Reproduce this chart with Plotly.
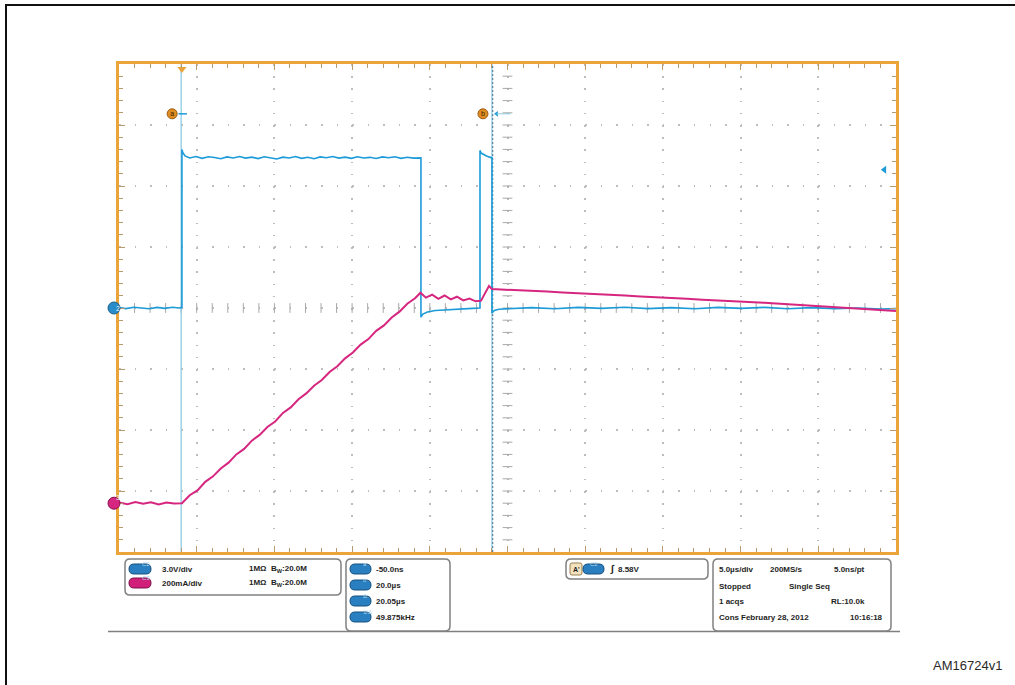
import numpy as np
import plotly.graph_objects as go

# ---------------- scope settings ----------------
t_left = -4.05          # µs at left edge of screen
t_div = 5.0             # µs/div
n_xdiv = 10
v_div = 3.0             # CH2 V/div
i_div = 200.0           # CH3 mA/div
n_ydiv = 8
ch3_offset_div = -3.2   # CH3 ground position (div from centre)

# ---------------- CH2 (blue, V) ----------------
ch2_t = [-4.05, -3.6, -3.1, -2.6, -2.1, -1.6, -1.1, -0.6, -0.2, 0.0,
         0.0, 0.05, 0.2, 0.5, 0.9, 1.3, 1.7, 2.1, 2.5, 2.9, 3.3, 3.7, 4.1, 4.5, 4.9,
         5.3, 5.7, 6.1, 6.5, 6.9, 7.3, 7.7, 8.1, 8.5, 8.9, 9.3, 9.7, 10.1, 10.5,
         10.9, 11.3, 11.7, 12.1, 12.5, 12.9, 13.3, 13.7, 14.1, 14.5, 14.9, 15.38,
         15.38, 15.5, 15.8, 16.3, 17.0, 18.0, 18.7, 19.18,
         19.18, 19.25, 19.4, 19.6, 19.8, 19.95,
         19.95, 20.1, 20.4, 21.0, 22.5, 24.0, 25.5, 27.0, 28.5, 30.0, 31.5, 33.0,
         34.5, 36.0, 37.5, 39.0, 40.5, 42.0, 43.5, 45.0, 45.95]
ch2_v = [0.02, -0.03, 0.04, 0.0, -0.04, 0.03, -0.02, 0.04, 0.0, 0.02,
         7.8, 7.65, 7.48, 7.38, 7.45, 7.36, 7.44, 7.40, 7.34, 7.43, 7.38, 7.45, 7.37, 7.42, 7.35,
         7.44, 7.39, 7.33, 7.42, 7.38, 7.45, 7.36, 7.41, 7.34, 7.43, 7.39, 7.45, 7.37, 7.42,
         7.36, 7.44, 7.38, 7.41, 7.35, 7.43, 7.39, 7.44, 7.36, 7.41, 7.37, 7.38,
         -0.45, -0.3, -0.2, -0.12, -0.08, -0.04, -0.02, 0.0,
         7.75, 7.62, 7.55, 7.48, 7.42, 7.38,
         -0.25, -0.12, -0.06, -0.03, 0.02, -0.04, 0.03, -0.02, 0.04, -0.03, 0.02, -0.04,
         0.03, -0.02, 0.03, -0.04, 0.02, -0.03, 0.0, -0.05, -0.03]

# ---------------- CH3 (magenta, mA) ----------------
ch3_t = [-4.05, -3.5, -3.0, -2.5, -2.0, -1.5, -1.0, -0.5, 0.0,
         0.5, 1.0, 1.5, 2.0, 2.5, 3.0, 3.5, 4.0, 4.5, 5.0, 5.5, 6.0, 6.5, 7.0,
         7.5, 8.0, 8.5, 9.0, 9.5, 10.0, 10.5, 11.0, 11.5, 12.0, 12.5, 13.0, 13.5,
         14.0, 14.5, 15.0, 15.35,
         15.7, 16.1, 16.5, 16.9, 17.3, 17.7, 18.1, 18.5, 18.9, 19.25,
         19.5, 19.76, 19.95, 20.5, 21.5, 22.5, 23.5, 24.5, 25.5, 26.5, 27.5,
         28.5, 29.5, 30.5, 31.5, 32.5, 33.5, 34.5, 35.5, 36.5, 37.5, 38.5, 39.5,
         40.5, 41.5, 42.5, 43.5, 44.5, 45.95]
ch3_i = [2, -3, 4, -2, 3, -4, 2, -1, 0,
         26, 42, 70, 88, 114, 133, 160, 178, 205, 224, 250, 268, 296, 314,
         341, 360, 385, 404, 430, 449, 475, 494, 520, 538, 565, 583, 609,
         628, 654, 672, 690,
         674, 684, 670, 681, 668, 677, 665, 671, 662, 664,
         688, 712, 702, 701, 699, 696, 694, 691, 689, 686, 683,
         681, 678, 676, 673, 670, 667, 665, 662, 659, 657, 654, 651,
         648, 645, 642, 638, 635, 630]

cursor_t = [-0.05, 19.95]       # cursor a / cursor b
trig_t = 0.0
trig_level_v = 6.8

# ---------------- colours ----------------
BLUE = "#1C9BD8"
CURSOR = "#8CCBE3"
MAGENTA = "#D6267F"
ORANGE = "#EAA43A"
GRID = "#BDBDBD"
TICK = "#A8A8A8"

t_right = t_left + n_xdiv * t_div
v_half = n_ydiv / 2 * v_div
i_lo = (-n_ydiv / 2 - ch3_offset_div) * i_div
i_hi = (n_ydiv / 2 - ch3_offset_div) * i_div
t_mid = t_left + n_xdiv / 2 * t_div

# plot area in pixels
PL, PR, PT, PB = 119, 896, 64, 552
W, H = 1015, 685


def px(x, y):
    return (x - PL) / (PR - PL), (PB - y) / (PB - PT)


def rbox(x0, y0, x1, y1, r):
    def P(x, y):
        a, b = px(x, y)
        return f"{a:.5f},{b:.5f}"
    s = (f"M{P(x0 + r, y0)} L{P(x1 - r, y0)} Q{P(x1, y0)} {P(x1, y0 + r)} "
         f"L{P(x1, y1 - r)} Q{P(x1, y1)} {P(x1 - r, y1)} L{P(x0 + r, y1)} "
         f"Q{P(x0, y1)} {P(x0, y1 - r)} L{P(x0, y0 + r)} Q{P(x0, y0)} {P(x0 + r, y0)} Z")
    return s


fig = go.Figure()

# crosshair tick marks
xt = np.arange(t_left, t_right + 1e-6, t_div / 5)
yt = np.arange(-v_half, v_half + 1e-6, v_div / 5)
fig.add_trace(go.Scatter(x=xt[1:-1], y=np.zeros(len(xt) - 2), mode="markers",
                         marker=dict(symbol="line-ns-open", size=7, color=TICK, line=dict(width=1, color=TICK)),
                         hoverinfo="skip", showlegend=False))
fig.add_trace(go.Scatter(x=np.full(len(yt) - 2, t_mid), y=yt[1:-1], mode="markers",
                         marker=dict(symbol="line-ew-open", size=7, color=TICK, line=dict(width=1, color=TICK)),
                         hoverinfo="skip", showlegend=False))

# cursor lines
fig.add_trace(go.Scatter(x=[cursor_t[0], cursor_t[0]], y=[-v_half, v_half], mode="lines",
                         line=dict(color=CURSOR, width=1.3), hoverinfo="skip", showlegend=False))
fig.add_trace(go.Scatter(x=[cursor_t[1], cursor_t[1]], y=[-v_half, v_half], mode="lines",
                         line=dict(color=CURSOR, width=1.3), hoverinfo="skip", showlegend=False))
fig.add_trace(go.Scatter(x=[cursor_t[1] + 0.05, cursor_t[1] + 0.05], y=[-v_half, v_half], mode="lines",
                         line=dict(color="#4A6C86", width=1, dash="2px,2px"), hoverinfo="skip", showlegend=False))

# waveforms
fig.add_trace(go.Scatter(x=ch2_t, y=ch2_v, mode="lines", line=dict(color=BLUE, width=1.6),
                         name="CH2", showlegend=False))
fig.add_trace(go.Scatter(x=ch3_t, y=ch3_i, mode="lines", line=dict(color=MAGENTA, width=2),
                         name="CH3", yaxis="y2", showlegend=False))

# cursor labels a / b
fig.add_trace(go.Scatter(x=[c - 0.58 for c in cursor_t], y=[9.55, 9.55], mode="markers+text",
                         marker=dict(symbol="circle", size=10, color="#E08E22", line=dict(color="#9A5A10", width=1)),
                         text=["a", "b"], textfont=dict(size=7, color="#3A2000", family="Liberation Sans"),
                         textposition="middle center", hoverinfo="skip", showlegend=False))
fig.add_trace(go.Scatter(x=[cursor_t[0] + 0.1], y=[9.55], mode="markers",
                         marker=dict(symbol="line-ew-open", size=6, color=BLUE, line=dict(color=BLUE, width=1.5)),
                         hoverinfo="skip", showlegend=False))
fig.add_trace(go.Scatter(x=[cursor_t[1] + 0.3], y=[9.55], mode="markers",
                         marker=dict(symbol="triangle-left", size=5, color=BLUE),
                         hoverinfo="skip", showlegend=False))
fig.add_trace(go.Scatter(x=[cursor_t[1] + 0.3, cursor_t[1] + 1.2], y=[9.55, 9.55], mode="lines",
                         line=dict(color=CURSOR, width=1), hoverinfo="skip", showlegend=False))

# trigger position / level markers
fig.add_trace(go.Scatter(x=[trig_t], y=[v_half - 0.25], mode="markers",
                         marker=dict(symbol="triangle-down", size=8, color=ORANGE),
                         cliponaxis=False, hoverinfo="skip", showlegend=False))
fig.add_trace(go.Scatter(x=[t_right - 0.75], y=[trig_level_v], mode="markers",
                         marker=dict(symbol="triangle-left", size=7, color=BLUE),
                         cliponaxis=False, hoverinfo="skip", showlegend=False))

shapes = []
annots = []

# outer black border
bx0, by0 = px(6, 5)
bx1, by1 = px(1018, 690)
shapes.append(dict(type="rect", xref="paper", yref="paper", x0=bx0, y0=by1, x1=bx1, y1=by0,
                   line=dict(color="#111111", width=2), layer="below"))


# channel ground markers on the left
def circ(cx, cy, r, fill, edge):
    a0, b0 = px(cx - r, cy + r)
    a1, b1 = px(cx + r, cy - r)
    shapes.append(dict(type="circle", xref="paper", yref="paper", x0=a0, y0=b0, x1=a1, y1=b1,
                       fillcolor=fill, line=dict(color=edge, width=1)))


circ(114, 308, 6, "#2A8CC8", "#1A5E8A")
circ(114, 503.2, 6, "#D6267F", "#8A1050")
for lab, yy in [("2", 308), ("3", 503.2)]:
    a, b = px(114, yy)
    annots.append(dict(x=a, y=b, xref="paper", yref="paper", text=lab, showarrow=False,
                       font=dict(size=7, color="#E8F4FF", family="Liberation Sans")))

FONT = dict(size=8, color="#1E1E1E", family="Liberation Sans")


def txt(x, y, s, anchor="left", size=8):
    a, b = px(x, y)
    f = dict(FONT)
    f["size"] = size
    annots.append(dict(x=a, y=b, xref="paper", yref="paper", text=f"<b>{s}</b>", showarrow=False,
                       xanchor=anchor, yanchor="middle", font=f))


def pill(x0, x1, yc, fill, edge, label):
    shapes.append(dict(type="path", xref="paper", yref="paper", path=rbox(x0, yc - 5, x1, yc + 5, 5),
                       fillcolor=fill, line=dict(color=edge, width=1)))
    a, b = px((x0 + x1) / 2, yc)
    annots.append(dict(x=a, y=b, xref="paper", yref="paper", text=label, showarrow=False,
                       font=dict(size=6, color="#A9D6F2", family="Liberation Sans")))


BOXLINE = dict(color="#808080", width=1.5)
# box 1: channel settings
shapes.append(dict(type="path", xref="paper", yref="paper", path=rbox(125, 559, 341, 595, 5),
                   fillcolor="white", line=BOXLINE))
pill(129, 151, 569, "#2A7FC0", "#16507E", "C2")
pill(129, 151, 583, "#D0207A", "#7E1048", "C3")
txt(160, 569, "3.0V/div")
txt(160, 583, "200mA/div")
txt(247, 569, "1MΩ  B<sub>W</sub>:20.0M")
txt(247, 583, "1MΩ  B<sub>W</sub>:20.0M")

# box 2: cursor readouts
shapes.append(dict(type="path", xref="paper", yref="paper", path=rbox(346, 559, 450, 631, 5),
                   fillcolor="white", line=BOXLINE))
for yy, lab, val in [(569, "a", "-50.0ns"), (585, "b", "20.0µs"),
                     (601, "Δ", "20.05µs"), (617, "1/Δ", "49.875kHz")]:
    pill(350, 371, yy, "#2A7FC0", "#16507E", lab)
    txt(374, yy, val)

# box 3: trigger
shapes.append(dict(type="path", xref="paper", yref="paper", path=rbox(566, 559, 708, 579, 5),
                   fillcolor="white", line=BOXLINE))
shapes.append(dict(type="path", xref="paper", yref="paper", path=rbox(570, 563, 582, 575, 2),
                   fillcolor="#F3E2C0", line=dict(color="#9A8050", width=1)))
txt(576, 569, "A'", anchor="center", size=7)
pill(583, 604, 569, "#2A7FC0", "#16507E", "C2")
txt(608, 569, "<i>∫</i>", size=10)
txt(616, 569, "8.58V")

# box 4: timebase
shapes.append(dict(type="path", xref="paper", yref="paper", path=rbox(713, 559, 891, 631, 5),
                   fillcolor="white", line=BOXLINE))
txt(717, 569, "5.0µs/div")
txt(768, 569, "200MS/s")
txt(832, 569, "5.0ns/pt")
txt(717, 586, "Stopped")
txt(787, 586, "Single Seq")
txt(717, 601, "1 acqs")
txt(867, 601, "RL:10.0k", anchor="right")
txt(717, 617, "Cons")
txt(739, 617, "February 28, 2012")
txt(885, 617, "10:16:18", anchor="right")

# separator line under readouts
sx0, sy = px(108, 631.5)
sx1, _ = px(900, 631.5)
shapes.append(dict(type="line", xref="paper", yref="paper", x0=sx0, y0=sy, x1=sx1, y1=sy,
                   line=dict(color="#808080", width=1.5), layer="below"))

# figure id
a, b = px(1004, 665)
annots.append(dict(x=a, y=b, xref="paper", yref="paper", text="AM16724v1", showarrow=False,
                   xanchor="right", yanchor="middle",
                   font=dict(size=13, color="#2A2A2A", family="Liberation Sans")))

fig.update_layout(
    width=W, height=H,
    margin=dict(l=PL, r=W - PR, t=PT, b=H - PB, pad=0),
    paper_bgcolor="white", plot_bgcolor="white",
    shapes=shapes, annotations=annots,
    xaxis=dict(range=[t_left, t_right], tick0=t_left, dtick=t_div, showticklabels=False,
               showgrid=True, gridcolor=GRID, gridwidth=1.5, griddash="1.5px,10.7px",
               zeroline=False, showline=True, linecolor=ORANGE, linewidth=3, mirror="ticks",
               ticks="inside", ticklen=6, tickcolor="#B89A70", tickwidth=1,
               minor=dict(dtick=t_div / 5, tick0=t_left, ticks="inside", ticklen=4,
                          tickcolor="#B89A70", showgrid=False),
               fixedrange=True),
    yaxis=dict(range=[-v_half, v_half], tick0=0, dtick=v_div, showticklabels=False,
               showgrid=True, gridcolor=GRID, gridwidth=1.5, griddash="1.5px,14.04px",
               zeroline=False, showline=True, linecolor=ORANGE, linewidth=3, mirror="ticks",
               ticks="inside", ticklen=6, tickcolor="#B89A70", tickwidth=1,
               minor=dict(dtick=v_div / 5, tick0=0, ticks="inside", ticklen=4,
                          tickcolor="#B89A70", showgrid=False),
               fixedrange=True),
    yaxis2=dict(range=[i_lo, i_hi], overlaying="y", showticklabels=False, showgrid=False,
                zeroline=False, showline=False, ticks="", fixedrange=True),
)

fig.write_html("out.html", config={"displayModeBar": False},
               post_script="document.body.style.margin='0px';document.body.style.overflow='hidden';")
